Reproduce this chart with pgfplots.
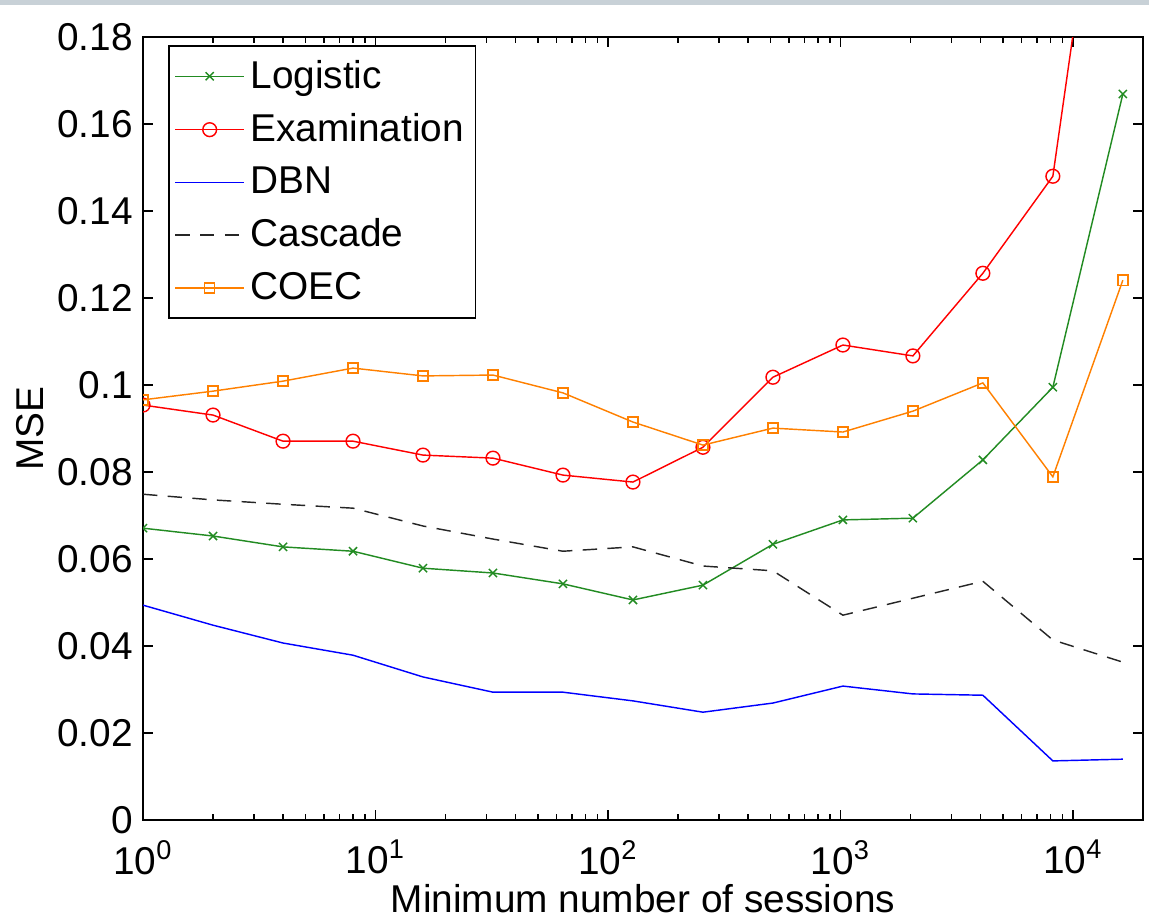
\documentclass[border=0pt]{standalone}
\usepackage{fontspec}
\setmainfont{Liberation Sans}
\usepackage{pgfplots}
\pgfplotsset{compat=1.18}
\usetikzlibrary{calc}

\definecolor{mgreen}{RGB}{34,139,34}
\definecolor{morange}{RGB}{255,128,0}
\definecolor{topband}{RGB}{200,209,215}

% one pixel of the reference is 0.3481pt
\begin{document}
\begin{tikzpicture}[font=\fontsize{13.5}{16}\selectfont]
\begin{axis}[
    name=ax,
    scale only axis,
    width=348.1pt, height=272.6pt,
    xmode=log,
    xmin=1, xmax=20000,
    ymin=0, ymax=0.18,
    xtick={1,10,100,1000,10000},
    xticklabels={10\textsuperscript{0},10\textsuperscript{1},10\textsuperscript{2},10\textsuperscript{3},10\textsuperscript{4}},
    xticklabel style={yshift=-3.5pt},
    ytick={0,0.02,0.04,0.06,0.08,0.1,0.12,0.14,0.16,0.18},
    yticklabel style={/pgf/number format/fixed,/pgf/number format/precision=2,
        /pgf/number format/assume math mode=true},
    major tick length=3.5pt, minor tick length=2.2pt,
    every tick/.style={black, line width=0.5pt},
    axis line style={line width=0.6pt},
    xlabel={Minimum number of sessions},
    ylabel={MSE},
    xlabel style={yshift=3.5pt},
    ylabel style={yshift=-2pt},
    clip marker paths=true,
    legend cell align=left,
    legend style={at={(0.025,0.99)}, anchor=north west, draw=black,
        line width=0.6pt, row sep=3.3pt, inner xsep=2pt, inner ysep=3pt,
        font=\fontsize{13.5}{16}\selectfont},
    legend image code/.code={\draw[mark repeat=2,mark phase=2]
        plot coordinates {(0.1cm,0cm)(0.52cm,0cm)(0.94cm,0cm)};},
]
\addplot[color=mgreen, line width=0.5pt, mark=x, mark size=2pt] coordinates {
(1,0.0671)(2,0.0653)(4,0.0628)(8,0.0618)(16,0.0579)(32,0.0568)(64,0.0543)
(128,0.0506)(256,0.0540)(512,0.0634)(1024,0.0690)(2048,0.0694)(4096,0.0828)
(8192,0.0995)(16384,0.1669)};
\addlegendentry{Logistic}

\addplot[color=red, line width=0.5pt, mark=o, mark size=2.4pt] coordinates {
(1,0.0954)(2,0.0931)(4,0.0871)(8,0.0871)(16,0.0839)(32,0.0832)(64,0.0793)
(128,0.0777)(256,0.0857)(512,0.1018)(1024,0.1092)(2048,0.1067)(4096,0.1257)
(8192,0.1480)(16384,0.2610)};
\addlegendentry{Examination}

\addplot[color=blue, line width=0.5pt] coordinates {
(1,0.0494)(2,0.0448)(4,0.0407)(8,0.0379)(16,0.0329)(32,0.0294)(64,0.0294)
(128,0.0274)(256,0.0248)(512,0.0269)(1024,0.0308)(2048,0.0290)(4096,0.0287)
(8192,0.0136)(16384,0.0140)};
\addlegendentry{DBN}

\addplot[color=black!85, line width=0.5pt, dash pattern=on 5pt off 3.6pt] coordinates {
(1,0.0749)(2,0.0736)(4,0.0726)(8,0.0717)(16,0.0676)(32,0.0646)(64,0.0618)
(128,0.0628)(256,0.0584)(512,0.0573)(1024,0.0471)(2048,0.0510)(4096,0.0549)
(8192,0.0414)(16384,0.0363)};
\addlegendentry{Cascade}

\addplot[color=morange, line width=0.5pt, mark=square, mark size=1.75pt] coordinates {
(1,0.0966)(2,0.0986)(4,0.1009)(8,0.1039)(16,0.1021)(32,0.1023)(64,0.0982)
(128,0.0915)(256,0.0862)(512,0.0901)(1024,0.0892)(2048,0.0940)(4096,0.1005)
(8192,0.0789)(16384,0.1241)};
\addlegendentry{COEC}
\end{axis}
\fill[topband] ($(ax.north west)+(-49.8pt,12.9pt)$) rectangle ($(ax.north east)+(2.1pt,11.2pt)$);
\pgfresetboundingbox
\path[use as bounding box] ($(ax.south west)+(-49.8pt,-34.5pt)$) rectangle ($(ax.north east)+(2.1pt,12.9pt)$);
\end{tikzpicture}
\end{document}
